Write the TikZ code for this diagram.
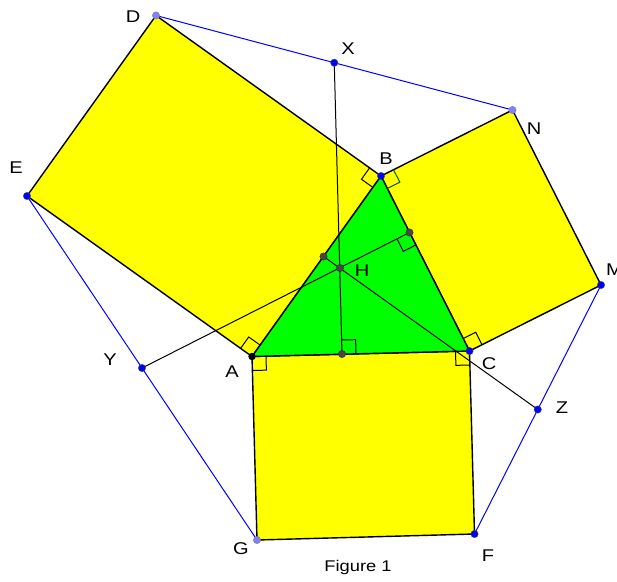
\documentclass[tikz,border=0pt]{standalone}
\usepackage{fontspec}
\setmainfont{Liberation Sans}[FakeStretch=1.18]
\usetikzlibrary{
	calc,
	angles,
	quotes
}
\definecolor{BoxYellow}{RGB}{255,255,0}
\definecolor{TriGreen}{RGB}{0,255,0}
\definecolor{DotBlue}{RGB}{0,0,255}
\definecolor{DotLight}{RGB}{128,128,255}
\definecolor{DotGray}{RGB}{70,70,70}
\definecolor{MarkGreen}{RGB}{0,90,0}

\begin{document}
\begin{tikzpicture}[x=1pt, y=-1pt,
		lbl/.style={font=\fontsize{17}{17}\selectfont, inner sep=0pt},
		rmark/.style={draw, line width=1pt, angle radius=14pt},
		dotb/.style={fill=DotBlue, draw=black!70},
		dotl/.style={fill=DotLight, draw=black!50},
		dotg/.style={fill=DotGray, draw=black!80}]
		\useasboundingbox (0,0) rectangle (617,581);
		\coordinate (A) at (252,356.5);
		\coordinate (B) at (381,176);
		\coordinate (C) at (469.5,351);
		\coordinate (D) at (156,15.5);
		\coordinate (E) at (27,196);
		\coordinate (N) at (512.5,110);
		\coordinate (M) at (601,285);
		\coordinate (G) at (257,540);
		\coordinate (F) at (474.5,534);
		\coordinate (X) at ($(D)!0.5!(N)$);
		\coordinate (Y) at ($(E)!0.5!(G)$);
		\coordinate (Z) at ($(M)!0.5!(F)$);
		\coordinate (H) at (340,268);
		\coordinate (Ha) at (342,354);
		\coordinate (Hb) at (409.5,232.5);
		\coordinate (Hc) at (323.5,256.5);
		\filldraw[fill=BoxYellow, line width=1.4pt] (A)--(B)--(D)--(E)--cycle;
		\filldraw[fill=BoxYellow, line width=1.4pt] (B)--(N)--(M)--(C)--cycle;
		\filldraw[fill=BoxYellow, line width=1.4pt] (A)--(C)--(F)--(G)--cycle;
		\filldraw[fill=TriGreen, line width=1.4pt] (A)--(B)--(C)--cycle;
		\draw[DotBlue, line width=1pt] (D)--(X)--(N);
		\draw[DotBlue, line width=1pt] (E)--(Y)--(G);
		\draw[DotBlue, line width=1pt] (M)--(Z)--(F);
		\draw[line width=1pt] (X)--(Ha);
		\draw[line width=1pt] (Y)--(Hb);
		\draw[line width=1pt] (Z)--(Hc);
		\draw pic[rmark] {right angle = D--B--A};
		\draw pic[rmark, MarkGreen] {right angle = C--B--N};
		\draw pic[rmark] {right angle = B--A--E};
		\draw pic[rmark] {right angle = G--A--C};
		\draw pic[rmark] {right angle = M--C--B};
		\draw pic[rmark] {right angle = A--C--F};
		\draw pic[rmark] {right angle = C--Ha--X};
		\draw pic[rmark] {right angle = Y--Hb--C};
		\filldraw[dotl] (D) circle (3.7pt);
		\filldraw[dotl] (N) circle (3.7pt);
		\filldraw[dotl] (G) circle (3.7pt);
		\filldraw[dotb] (B) circle (3.7pt);
		\filldraw[dotb] (C) circle (3.7pt);
		\filldraw[dotb] (E) circle (3.7pt);
		\filldraw[dotb] (M) circle (3.7pt);
		\filldraw[dotb] (F) circle (3.7pt);
		\filldraw[dotb] (X) circle (3.7pt);
		\filldraw[dotb] (Y) circle (3.7pt);
		\filldraw[dotb] (Z) circle (3.7pt);
		\fill (A) circle (3.7pt);
		\filldraw[dotg] (H) circle (3.7pt);
		\filldraw[dotg] (Ha) circle (3.7pt);
		\filldraw[dotg] (Hb) circle (3.7pt);
		\filldraw[dotg] (Hc) circle (3.7pt);
		\node[lbl] (lA) at (232,372) {A};
		\node[lbl] (lB) at (386,159) {B};
		\node[lbl] (lC) at (489,364) {C};
		\node[lbl] (lD) at (133,17) {D};
		\node[lbl] (lE) at (16,168) {E};
		\node[lbl] (lF) at (488,556) {F};
		\node[lbl] (lG) at (241,549) {G};
		\node[lbl] (lH) at (362,271) {H};
		\node[lbl, anchor=west] (lM) at (606,270) {M};
		\node[lbl] (lN) at (534,129) {N};
		\node[lbl] (lX) at (348,49) {X};
		\node[lbl] (lY) at (110,360) {Y};
		\node[lbl] (lZ) at (562,408) {Z};
		\node[lbl, font=\fontsize{15.5}{15.5}\selectfont] (cap) at (358,567) {Figure 1};
	\end{tikzpicture}
\end{document}
